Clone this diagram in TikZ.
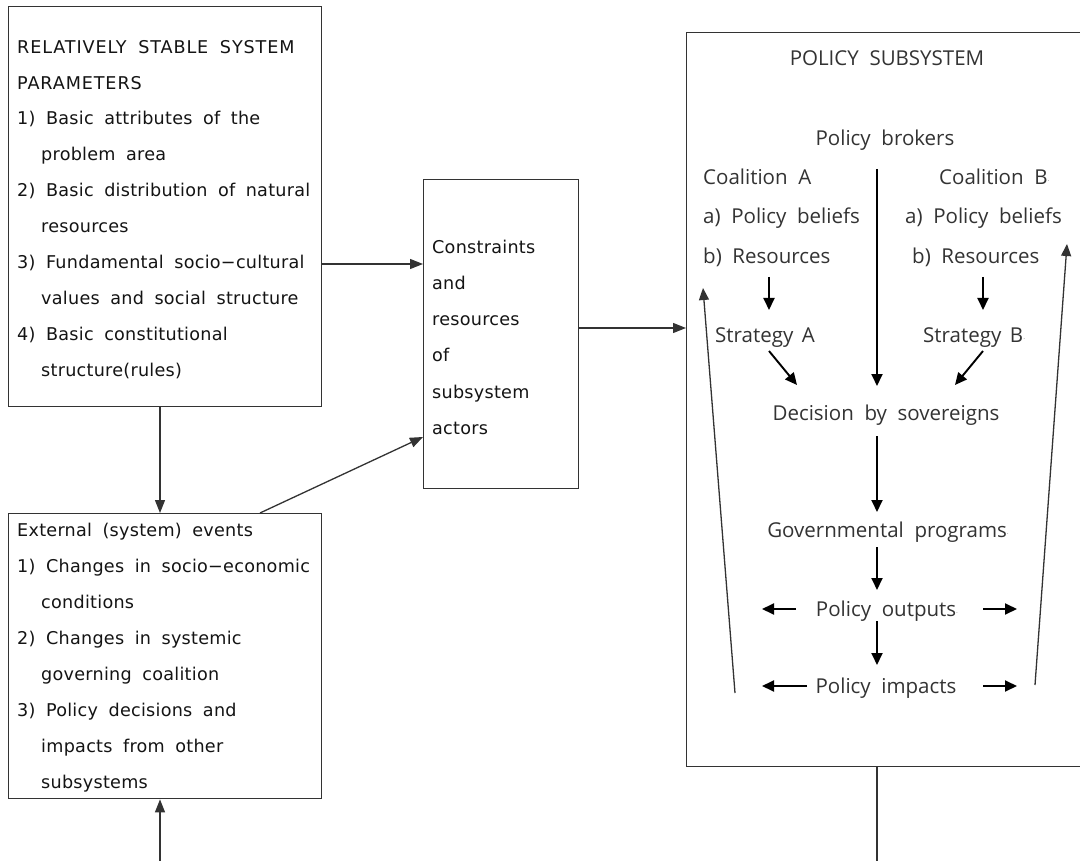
\documentclass[tikz,border=0pt]{standalone}
\usepackage{fontspec}
\usetikzlibrary{arrows.meta}
\newfontfamily\lfont[LetterSpace=1.5,WordSpace=1.8]{DejaVu Sans}
\newfontfamily\lcapfont[LetterSpace=5,WordSpace=1.8]{DejaVu Sans}
\newfontfamily\rfont[WordSpace=2]{Open Sans}
\definecolor{lc}{HTML}{333333}
\definecolor{rtext}{HTML}{333333}
\definecolor{dotc}{HTML}{909090}
\begin{document}
\begin{tikzpicture}[x=1pt,y=-1pt,
  box/.style={draw=lc, line width=1.4pt, inner sep=0pt, anchor=north west},
  lt/.style={font=\lfont\fontsize{17.6}{18}\selectfont, text=black!92, anchor=base west, inner sep=0pt},
  ltc/.style={lt, font=\lcapfont\fontsize{17.6}{18}\selectfont},
  rt/.style={font=\rfont\fontsize{20.5}{20.5}\selectfont, text=rtext, anchor=base, inner sep=0pt},
  rtw/.style={rt, anchor=base west},
  arr/.style={-{Triangle[length=13pt,width=10pt]}, line width=1.3pt, draw=lc},
  rarr/.style={-{Triangle[length=12pt,width=11pt]}, line width=1.9pt, draw=black},
  farr/.style={-{Triangle[length=12pt,width=10pt]}, line width=1.3pt, draw=lc}]
\useasboundingbox (0,0) rectangle (1080,861);
\clip (0,0) rectangle (1080,861);
\fill[white] (0,0) rectangle (1080,861);

% boxes
\node[box, minimum width=313pt, minimum height=400pt] (b1) at (8,6) {};
\node[box, minimum width=155pt, minimum height=309pt] (b2) at (423,179) {};
\node[box, minimum width=313pt, minimum height=285pt] (b3) at (8,513) {};
\node[box, minimum width=420pt, minimum height=734pt] (b4) at (686,32) {};

% box 1 text
\node[ltc] (t11) at (17,54) {RELATIVELY STABLE SYSTEM};
\node[ltc] (t12) at (17,90) {PARAMETERS};
\node[lt] (t13) at (17,125) {1) Basic attributes of the};
\node[lt] (t14) at (41,161) {problem area};
\node[lt] (t15) at (17,197) {2) Basic distribution of natural};
\node[lt] (t16) at (41,233) {resources};
\node[lt] (t17) at (17,269) {3) Fundamental socio−cultural};
\node[lt] (t18) at (41,305) {values and social structure};
\node[lt] (t19) at (17,341) {4) Basic constitutional};
\node[lt] (t110) at (41,377) {structure(rules)};

% box 2 text
\node[lt] (t21) at (432,254) {Constraints};
\node[lt] (t22) at (432,290) {and};
\node[lt] (t23) at (432,326) {resources};
\node[lt] (t24) at (432,362) {of};
\node[lt] (t25) at (432,398) {subsystem};
\node[lt] (t26) at (432,434) {actors};

% box 3 text
\node[lt] (t31) at (17,536) {External (system) events};
\node[lt] (t32) at (17,572) {1) Changes in socio−economic};
\node[lt] (t33) at (41,608) {conditions};
\node[lt] (t34) at (17,644) {2) Changes in systemic};
\node[lt] (t35) at (41,680) {governing coalition};
\node[lt] (t36) at (17,716) {3) Policy decisions and};
\node[lt] (t37) at (41,752) {impacts from other};
\node[lt] (t38) at (41,788) {subsystems};

% policy subsystem text
\node[rt] (title) at (887,66) {POLICY SUBSYSTEM};
\node[rt] (brokers) at (885,146) {Policy brokers};
\node[rtw] (coalA) at (703,185) {Coalition A};
\node[rtw] (pbA) at (703,224) {a) Policy beliefs};
\node[rtw] (resA) at (703,264) {b) Resources};
\node[rtw] (coalB) at (939,185) {Coalition B{\color{dotc}\scriptsize\raisebox{1pt}{·}}};
\node[rtw] (pbB) at (905,224) {a) Policy beliefs};
\node[rtw] (resB) at (912,264) {b) Resources};
\node[rtw] (stratA) at (715,342) {Strategy\hspace{-2pt} A};
\node[rtw] (stratB) at (923,342) {Strategy\hspace{-2pt} B{\color{dotc}\scriptsize\raisebox{1pt}{·}}};
\node[rt] (dec) at (886,420) {Decision by sovereigns};
\node[rt] (gov) at (888,537) {Governmental programs{\color{dotc}\scriptsize\raisebox{1pt}{·}}};
\node[rt] (out) at (887,616) {Policy outputs{\color{dotc}\scriptsize\raisebox{1pt}{·}}};
\node[rt] (imp) at (886,693) {Policy impacts};

% left side connectors
\draw[arr] (b1.east |- 0,264) -- (b2.west |- 0,264);
\draw[arr] (b2.east |- 0,328) -- (b4.west |- 0,328);
\draw[arr] (b1.south -| 160,0) -- (b3.north -| 160,0);
\draw[arr] (b3.north -| 260,0) -- (b2.west |- 0,437);
\coordinate (bot) at (160,861);
\draw[arr] (bot) -- (b3.south -| bot);
\coordinate (bot2) at (877,861);
\draw[line width=1.4pt, draw=lc] (b4.south -| bot2) -- (bot2);

% inside policy subsystem
\coordinate (brS) at (877,169);
\coordinate (decN) at (877,386);
\draw[rarr] (brS) -- (decN);
\coordinate (rAs) at (769,277); \coordinate (sAn) at (769,310);
\draw[rarr] (rAs) -- (sAn);
\coordinate (rBs) at (983,277); \coordinate (sBn) at (983,310);
\draw[rarr] (rBs) -- (sBn);
\coordinate (sAs) at (769,351); \coordinate (dA) at (797,385);
\draw[rarr] (sAs) -- (dA);
\coordinate (sBs) at (983,351); \coordinate (dB) at (955,385);
\draw[rarr] (sBs) -- (dB);
\coordinate (decS) at (877,436); \coordinate (govN) at (877,512);
\draw[rarr] (decS) -- (govN);
\coordinate (govS) at (877,547); \coordinate (outN) at (877,590);
\draw[rarr] (govS) -- (outN);
\coordinate (outS) at (877,621); \coordinate (impN) at (877,665);
\draw[rarr] (outS) -- (impN);
\coordinate (oL1) at (796,609); \coordinate (oL2) at (762,609);
\draw[rarr] (oL1) -- (oL2);
\coordinate (oR1) at (983,609); \coordinate (oR2) at (1017,609);
\draw[rarr] (oR1) -- (oR2);
\coordinate (iL1) at (807,686); \coordinate (iL2) at (762,686);
\draw[rarr] (iL1) -- (iL2);
\coordinate (iR1) at (983,686); \coordinate (iR2) at (1017,686);
\draw[rarr] (iR1) -- (iR2);
\coordinate (fL1) at (735,693); \coordinate (fL2) at (703,288);
\draw[farr] (fL1) -- (fL2);
\coordinate (fR1) at (1035,685); \coordinate (fR2) at (1067,244);
\draw[farr] (fR1) -- (fR2);
\end{tikzpicture}
\end{document}
